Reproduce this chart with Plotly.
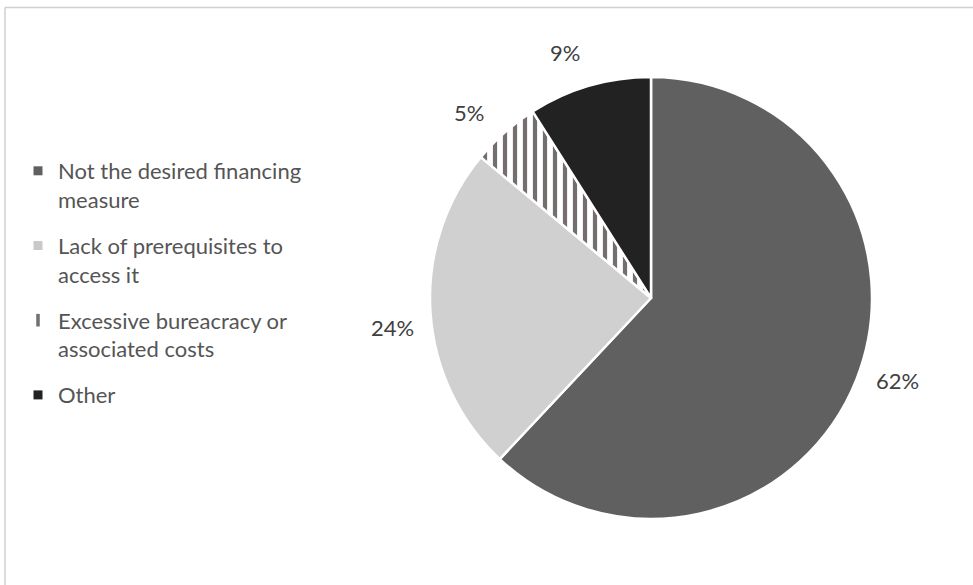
import math
import plotly.graph_objects as go

# Survey result: reasons for not using the financing measure
categories = [
    "Not the desired financing<br>measure",
    "Lack of prerequisites to<br>access it",
    "Excessive bureacracy or<br>associated costs",
    "Other",
]
shares = [62, 24, 5, 9]

slice_colors = ["#606060", "#d1d0d1", "#ffffff", "#222222"]
slice_patterns = ["", "", "|", ""]
legend_colors = ["#606060", "#c9c9c9", "#746e6e", "#222222"]
legend_symbols = ["square", "square", "line-ns", "square"]
stripe_color = "#746e6e"

W, H = 973, 585
cx, cy, r = 651, 298, 221
label_gap = 39          # distance of label centres beyond the rim (px)
label_turn = -3         # small counter-clockwise turn for label placement (deg)
font_family = "Lato, Open Sans, sans-serif"

fig = go.Figure(
    go.Pie(
        labels=[c.replace("<br>", " ") for c in categories],
        values=shares,
        sort=False,
        direction="clockwise",
        rotation=0,
        textinfo="none",
        showlegend=False,
        marker=dict(
            colors=slice_colors,
            line=dict(color="#ffffff", width=2.5),
            pattern=dict(
                shape=slice_patterns,
                fgcolor=stripe_color,
                bgcolor="#ffffff",
                size=10,
                solidity=0.42,
                fillmode="replace",
            ),
        ),
        domain=dict(
            x=[(cx - r) / W, (cx + r) / W],
            y=[(H - cy - r) / H, (H - cy + r) / H],
        ),
        hoverinfo="label+percent",
    )
)

# Percentage labels placed just outside each slice, along its mid angle
total = sum(shares)
cum = 0
for v in shares:
    mid = (cum + v / 2) / total * 2 * math.pi + math.radians(label_turn)
    cum += v
    px = cx + (r + label_gap) * math.sin(mid)
    py = cy - (r + label_gap) * math.cos(mid)
    fig.add_annotation(
        x=px / W, y=1 - py / H, xref="paper", yref="paper",
        text=f"{v}%", showarrow=False, xanchor="center", yanchor="middle",
        font=dict(size=22, color="#404040", family=font_family),
    )

# Legend entries, one group each so they can be spaced apart
for name, col, sym in zip(categories, legend_colors, legend_symbols):
    fig.add_trace(
        go.Scatter(
            x=[None], y=[None], mode="markers", name=name, legendgroup=name,
            marker=dict(
                symbol=sym, size=9, color=col,
                line=dict(color=col, width=3.5 if sym == "line-ns" else 0),
            ),
            hoverinfo="skip",
        )
    )

# Frame lines along the top and left edges of the chart area
frame = dict(type="line", xref="paper", yref="paper", line=dict(color="#d0d0d0", width=1.5))
fig.add_shape(**frame, x0=5 / W, x1=1, y0=1 - 7.5 / H, y1=1 - 7.5 / H)
fig.add_shape(**frame, x0=5 / W, x1=5 / W, y0=0, y1=1 - 7.5 / H)

fig.update_layout(
    width=W,
    height=H,
    margin=dict(l=0, r=0, t=0, b=0),
    paper_bgcolor="#ffffff",
    plot_bgcolor="#ffffff",
    font=dict(family=font_family, color="#404040"),
    showlegend=True,
    xaxis=dict(visible=False),
    yaxis=dict(visible=False),
    legend=dict(
        x=18 / W,
        xanchor="left",
        y=1 - 150 / H,
        yanchor="top",
        valign="top",
        tracegroupgap=14.5,
        font=dict(size=22, color="#555555"),
        bgcolor="rgba(0,0,0,0)",
    ),
)

fig.write_html("out.html")
